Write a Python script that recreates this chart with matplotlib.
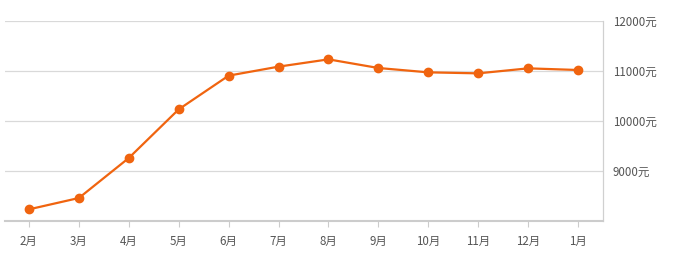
import matplotlib.pyplot as plt

plt.rcParams['font.family'] = ['Noto Sans CJK SC', 'DejaVu Sans']

months = ["2月", "3月", "4月", "5月", "6月", "7月", "8月", "9月", "10月", "11月", "12月", "1月"]
prices = [8233, 8460, 9260, 10233, 10907, 11087, 11233, 11060, 10973, 10953, 11053, 11020]
yticks = [9000, 10000, 11000, 12000]
ytick_labels = ["9000元", "10000元", "11000元", "12000元"]

fig = plt.figure(figsize=(6.75, 2.64), dpi=100)
ax = fig.add_axes([5/675, 1-221/264, 598/675, 200/264])

x = list(range(len(months)))
ax.plot(x, prices, color="#f0640f", lw=1.6, marker="o", ms=6, zorder=3)

ax.set_xlim(-0.48, 11.5)
ax.set_ylim(8000, 12000)
ax.set_xticks(x)
ax.set_xticklabels(months)
ax.set_yticks(yticks)
ax.set_yticklabels(ytick_labels)
ax.yaxis.tick_right()
ax.grid(axis="y", color="#d9d9d9", lw=0.9)
ax.set_axisbelow(True)

for s in ["top", "left"]:
    ax.spines[s].set_visible(False)
ax.spines["right"].set_color("#d0d0d0")
ax.spines["right"].set_linewidth(0.9)
ax.spines["bottom"].set_color("#cccccc")
ax.spines["bottom"].set_linewidth(1.5)

ax.tick_params(axis="y", length=0, pad=7, labelsize=8.3, labelcolor="#555555")
ax.tick_params(axis="x", length=4, color="#cccccc", pad=6, labelsize=8.3, labelcolor="#555555")

fig.savefig("out.png", dpi=100)
